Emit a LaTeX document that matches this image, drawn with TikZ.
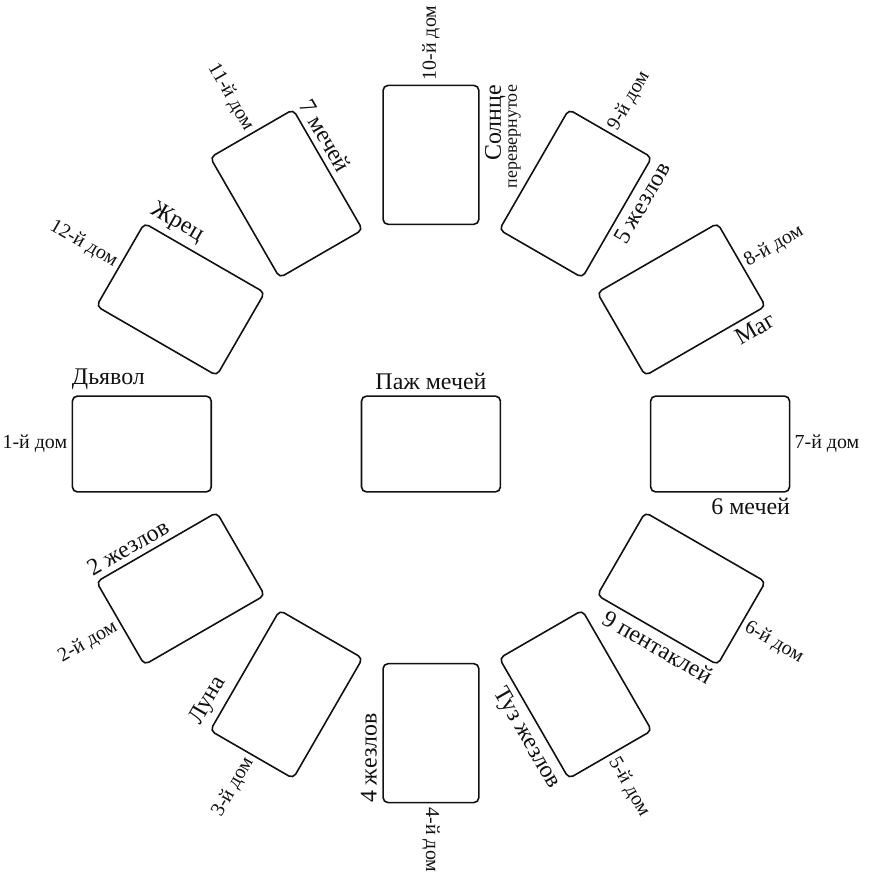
\documentclass[tikz,border=0pt]{standalone}
\usepackage{fontspec}
\setmainfont{Liberation Serif}
\usepackage{tikz}
\usetikzlibrary{positioning}
\definecolor{ink}{HTML}{111111}
\newcommand{\SubName}[1]{{\fontsize{9}{10}\selectfont #1}}

\begin{document}
\begin{tikzpicture}[
  card/.style={
    rectangle, draw=ink, line width=0.8pt, rounded corners=2.5pt,
    minimum width=2.45cm, minimum height=1.69cm, inner sep=0pt
  },
  house/.style={inner sep=2pt, text=ink, font=\fontsize{10}{11}\selectfont},
  cardname/.style={inner xsep=0pt, inner ysep=2.5pt, text=ink,
    font=\fontsize{12}{13}\selectfont}
]

% ---------- Geometry ----------
\def\rad{5.10}
\useasboundingbox (-7.602,-7.620) rectangle (7.761,7.832);

% ---------- Cards ----------
\node[card] (C0) at (0,0) {};
\node[card, rotate=180] (C1)  at (180:\rad) {};
\node[card, rotate=210] (C2)  at (210:\rad) {};
\node[card, rotate=240] (C3)  at (240:\rad) {};
\node[card, rotate=270] (C4)  at (270:\rad) {};
\node[card, rotate=300] (C5)  at (300:\rad) {};
\node[card, rotate=330] (C6)  at (330:\rad) {};
\node[card, rotate=0]   (C7)  at (0:\rad)   {};
\node[card, rotate=30]  (C8)  at (30:\rad)  {};
\node[card, rotate=60]  (C9)  at (60:\rad)  {};
\node[card, rotate=90]  (C10) at (90:\rad)  {};
\node[card, rotate=120] (C11) at (120:\rad) {};
\node[card, rotate=150] (C12) at (150:\rad) {};

% ---------- Houses ----------
\node[house, rotate=0,   anchor=east] (H1)  at (C1.east)  {1-й дом};
\node[house, rotate=30,  anchor=east] (H2)  at (C2.east)  {2-й дом};
\node[house, rotate=60,  anchor=east] (H3)  at (C3.east)  {3-й дом};
\node[house, rotate=270, anchor=west] (H4)  at (C4.east)  {4-й дом};
\node[house, rotate=300, anchor=west] (H5)  at (C5.east)  {5-й дом};
\node[house, rotate=330, anchor=west] (H6)  at (C6.east)  {6-й дом};
\node[house, rotate=0,   anchor=west] (H7)  at (C7.east)  {7-й дом};
\node[house, rotate=30,  anchor=west] (H8)  at (C8.east)  {8-й дом};
\node[house, rotate=60,  anchor=west] (H9)  at (C9.east)  {9-й дом};
\node[house, rotate=90,  anchor=west] (H10) at (C10.east) {10-й дом};
\node[house, rotate=-60, anchor=east] (H11) at (C11.east) {11-й дом};
\node[house, rotate=-30, anchor=east] (H12) at (C12.east) {12-й дом};

% ---------- Card names ----------
\node[cardname, anchor=south] (N0) at (C0.north) {Паж мечей};
\node[cardname, rotate=0,   anchor=south west] (N1)  at (C1.south east)  {Дьявол};
\node[cardname, rotate=30,  anchor=south west] (N2)  at (C2.south east)  {2 жезлов};
\node[cardname, rotate=60,  anchor=south west] (N3)  at (C3.south east)  {Луна};
\node[cardname, rotate=90,  anchor=south west] (N4)  at (C4.south east)  {4 жезлов};
\node[cardname, rotate=300, anchor=north east] (N5)  at (C5.south east)  {Туз жезлов};
\node[cardname, rotate=330, anchor=north east] (N6)  at (C6.south east)  {9 пентаклей};
\node[cardname, rotate=0,   anchor=north east] (N7)  at (C7.south east)  {6 мечей};
\node[cardname, rotate=30,  anchor=north east] (N8)  at (C8.south east)  {Маг};
\node[cardname, rotate=60,  anchor=north east] (N9)  at (C9.south east)  {5 жезлов};
\node[cardname, rotate=90,  anchor=north east, align=right] (N10) at (C10.south east)
  {Солнце\\[-5pt]\SubName{перевернутое}};
\node[cardname, rotate=-60, anchor=south west] (N11) at (C11.south east) {7 мечей};
\node[cardname, rotate=-30, anchor=south west] (N12) at (C12.south east) {Жрец};

\end{tikzpicture}
\end{document}
